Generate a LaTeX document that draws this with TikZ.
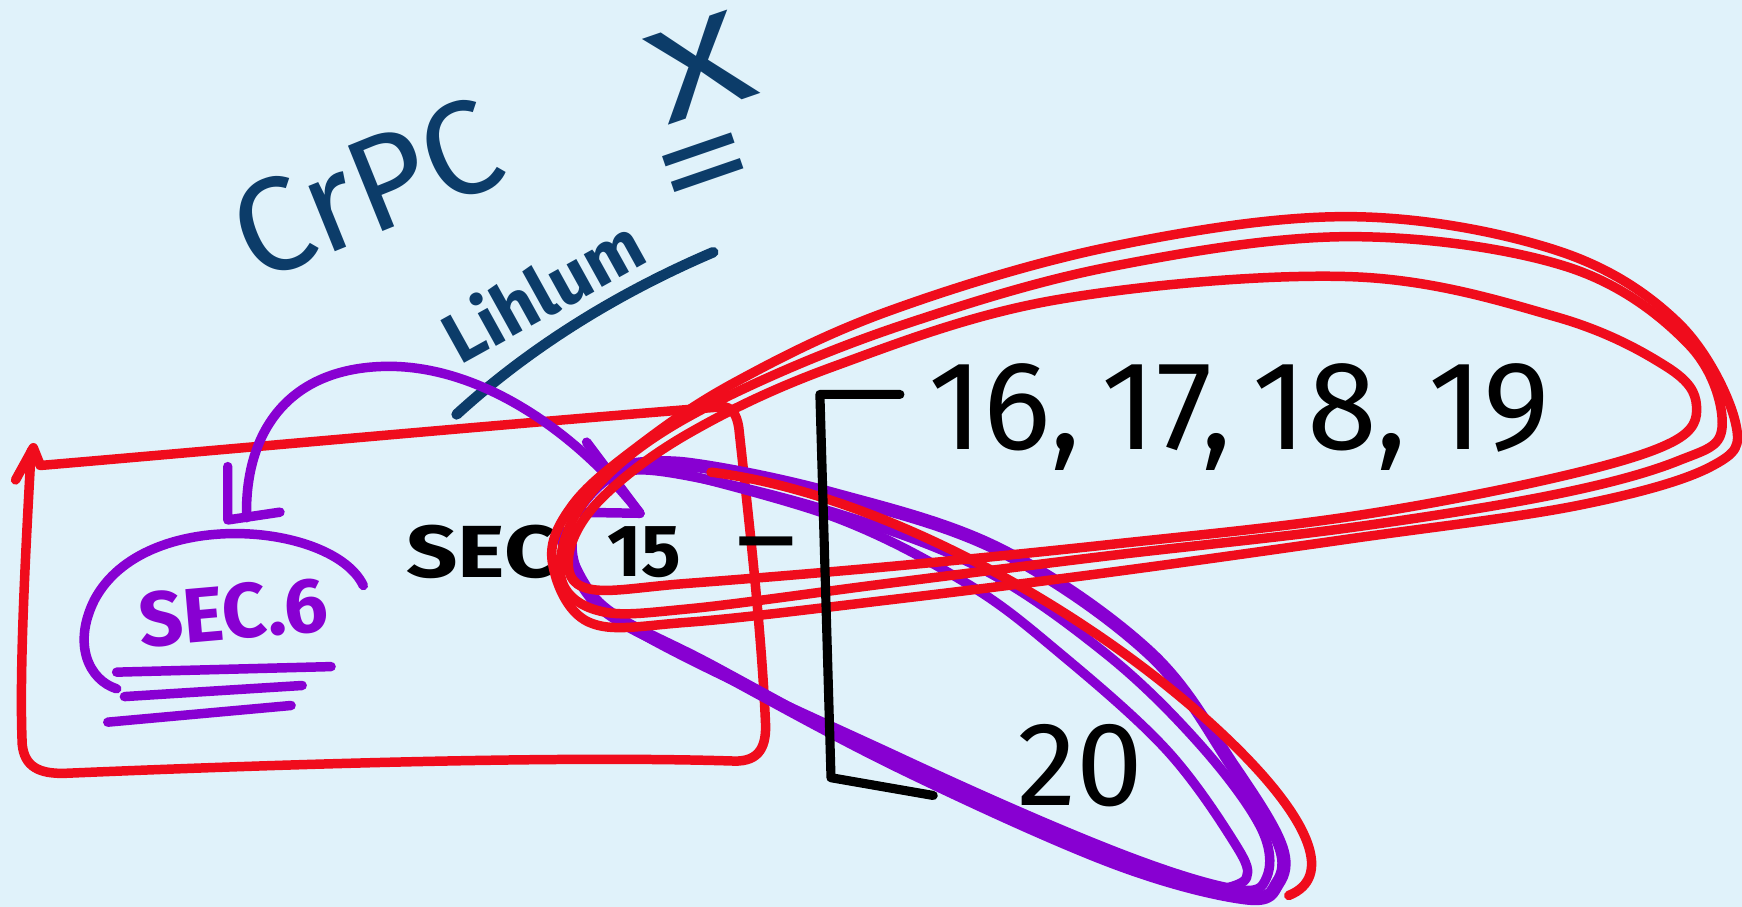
\documentclass[tikz,border=0pt]{standalone}
\usepackage{fontspec}
\newfontfamily\hand{Fira Sans}
\definecolor{bg}{RGB}{224,242,250}
\definecolor{rd}{RGB}{240,12,28}
\definecolor{pu}{RGB}{136,0,210}
\definecolor{nv}{RGB}{12,60,105}
\tikzset{
  txt/.style={inner sep=0pt, font=\hand},
  redstroke/.style={draw=rd, line width=2.7pt},
  purstroke/.style={draw=pu, line width=2.7pt},
  navystroke/.style={draw=nv, line width=3pt},
  blkstroke/.style={draw=black, line width=2.6pt},
}
\begin{document}
\begin{tikzpicture}[x=0.0111097cm, y=-0.0111097cm, line cap=round, line join=round]
\fill[bg] (0,0) rectangle (1568,816);
\useasboundingbox (0,0) rectangle (1568,816);

% red rectangle
\draw[redstroke] (14,432) -- (30,403) -- (36,418);
\draw[redstroke] (36,419) .. controls (200,405) and (450,382) .. (652,366);
\draw[redstroke] (28,406) .. controls (24,480) and (17,600) .. (20,670)
  .. controls (22,690) and (35,697) .. (60,696)
  .. controls (250,688) and (500,680) .. (660,685)
  .. controls (685,686) and (690,670) .. (689,650)
  .. controls (685,560) and (672,450) .. (665,385)
  .. controls (663,372) and (658,366) .. (650,366);

% texts
\node[txt, text=nv, rotate=22, font=\hand\fontsize{38}{40}\selectfont] (crpc) at (330,170) {CrPC};
\node[txt, text=nv, rotate=19, xscale=1.42, font=\hand\fontsize{37}{39}\selectfont] (xx) at (630,60) {X};
\node[txt, text=nv, rotate=19, xscale=1.38, font=\hand\fontsize{40}{42}\selectfont] (eq) at (637,158) {=};
\node[txt, anchor=base, text=nv, rotate=29, font=\hand\bfseries\fontsize{20}{22}\selectfont] (lih) at (500,282) {Lihlum};
\node[txt, text=pu, rotate=5, font=\hand\bfseries\fontsize{22}{24}\selectfont] (sec6) at (210,551) {SEC.6};
\node[txt, xscale=1.22, font=\hand\bfseries\fontsize{21}{23}\selectfont] (sec) at (433,497) {SEC};
\node[txt, font=\hand\bfseries\fontsize{21}{23}\selectfont] (n15) at (580,497) {15};
\node[txt, xscale=1.5, font=\hand\bfseries\fontsize{21}{23}\selectfont] (dash) at (690,496) {–};
\node[txt, anchor=base west, font=\hand\fontsize{36}{38}\selectfont] (nums) at (835,405) {16,\,17,\,18,\,19};
\node[txt, anchor=base west, font=\hand\fontsize{34}{36}\selectfont] (n20) at (915,725) {20};

% navy underline
\coordinate (ul1) at (411,373);
\coordinate (ul2) at (642,227);
\draw[navystroke] (ul1) .. controls (480,310) and (560,262) .. (ul2);

% purple circle and underlines round SEC.6
\draw[purstroke] (327,527) .. controls (300,470) and (130,455) .. (85,540)
  .. controls (65,580) and (80,612) .. (105,620);
\draw[purstroke] (105,605) -- (298,600);
\draw[purstroke] (112,627) -- (272,617);
\draw[purstroke] (97,650) -- (262,635);

% purple arrow SEC 15 -> SEC.6
\coordinate (a15) at (576,462);
\coordinate (a6) at (222,466);
\draw[purstroke] (a15) .. controls (520,390) and (430,325) .. (340,330)
  .. controls (250,335) and (220,400) .. (a6);
\draw[purstroke] (205,420) -- (205,468) -- (252,461);
\draw[purstroke] (513,461) -- (a15);
\draw[purstroke] (528,398) -- (a15);

% purple loop round 20
\draw[purstroke, line width=3.8pt] plot[smooth, tension=0.6] coordinates {(505,480) (540,545) (640,600) (810,690) (1000,775) (1120,808) (1150,795) (1152,760) (1110,690) (1035,588) (900,495) (750,445) (620,418) (560,420)};
\draw[purstroke] plot[smooth, tension=0.6] coordinates {(515,490) (560,560) (810,682) (1000,765) (1110,800) (1140,790) (1135,745) (1080,670) (995,588) (880,510) (740,458) (600,425) (550,430) (520,460)};
\draw[purstroke] plot[smooth, tension=0.6] coordinates {(590,420) (750,465) (870,525) (954,588) (1050,675) (1112,760) (1122,790) (1100,800)};

% red loop round 20
\draw[redstroke] (640,425) .. controls (800,445) and (1000,560) .. (1115,675)
  .. controls (1180,740) and (1200,790) .. (1160,806);

% red loops round 16..19
\draw[redstroke] plot[smooth cycle, tension=0.6] coordinates {(497,505) (515,455) (570,405) (660,345) (800,280) (1000,222) (1215,195) (1400,225) (1510,290) (1562,380) (1540,420) (1420,455) (1215,485) (1000,515) (800,540) (620,560) (530,560)};
\draw[redstroke] plot[smooth cycle, tension=0.6] coordinates {(505,520) (520,460) (580,400) (680,345) (820,290) (1000,240) (1215,213) (1410,240) (1520,310) (1550,385) (1510,415) (1400,445) (1215,475) (1000,500) (800,525) (620,548) (540,550)};
\draw[redstroke] plot[smooth cycle, tension=0.6] coordinates {(512,500) (540,450) (620,390) (750,330) (950,270) (1215,249) (1400,285) (1500,330) (1527,365) (1505,398) (1400,430) (1215,465) (1000,490) (800,510) (620,525) (530,530)};

% black bracket
\coordinate (bt) at (810,355);
\coordinate (bb) at (840,716);
\draw[blkstroke] (bt) -- (738,355) -- (748,700) -- (bb);
\end{tikzpicture}
\end{document}
